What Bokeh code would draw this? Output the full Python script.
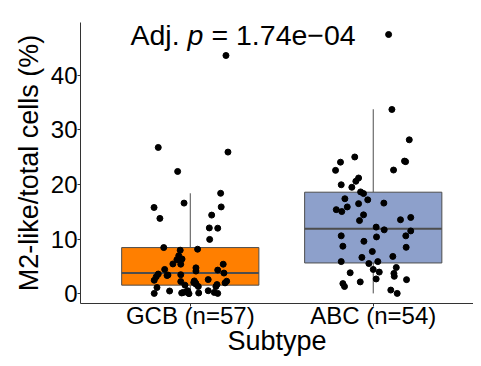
from bokeh.plotting import figure
from bokeh.models import Range1d, FixedTicker
from bokeh.core.properties import value
from bokeh.embed import file_html
from bokeh.resources import INLINE

# ---- data ----
categories = ["GCB (n=57)", "ABC (n=54)"]
box_fill = ["#FF7F00", "#8DA0CB"]
q1 = [1.56, 5.63]
median = [3.78, 11.9]
q3 = [8.45, 18.6]
whisker_low = [0.0, 0.05]
whisker_high = [18.4, 33.8]

gcb_values = [43.65, 26.8, 25.95, 22.4, 18.4, 16.6, 15.8, 15.9, 13.8, 14.4,
              12.05, 12.0, 9.95, 8.45, 7.97, 8.15, 6.96, 6.24, 5.45, 5.4,
              5.4, 4.44, 4.73, 4.14, 4.32, 3.6, 3.42, 3.48, 3.78, 3.11,
              2.46, 2.22, 2.04, 2.58, 2.28, 1.98, 1.56, 1.74, 1.31, 1.67,
              1.31, 1.13, 0.05, 0.49, 0.13, 0.31, 0.0, 0.13, 0.54, 0.23,
              0.05, 2.34, 6.35, 1.92, 0.23, 0.54, 3.33]
gcb_jitter = [0.195, -0.175, 0.206, -0.069, 0.166, -0.034, -0.198, 0.169, -0.166, 0.117,
              0.104, 0.150, 0.106, -0.145, -0.055, 0.040, -0.063, -0.073, -0.095, -0.052,
              0.180, -0.140, 0.031, 0.031, 0.150, -0.175, -0.122, -0.052, 0.184, -0.186,
              -0.197, -0.052, 0.019, 0.098, 0.199, 0.190, -0.029, 0.031, 0.044, 0.146,
              0.140, -0.182, -0.197, -0.113, -0.047, -0.022, -0.007, 0.046, 0.098, 0.131,
              0.150, 0.022, -0.045, 0.030, -0.038, -0.014, -0.127]

abc_values = [47.5, 33.76, 28.2, 24.3, 24.2, 22.66, 25.05, 24.1, 22.6, 19.96,
              21.2, 20.6, 19.5, 18.65, 18.35, 17.4, 17.2, 16.5, 16.6, 15.4,
              15.05, 15.9, 14.45, 13.4, 13.55, 13.97, 12.2, 11.7, 11.5, 10.6,
              10.4, 10.6, 8.7, 9.6, 8.5, 7.73, 6.65, 6.83, 5.88, 5.52,
              5.88, 4.8, 4.44, 3.96, 3.72, 3.18, 3.83, 2.7, 2.57, 2.16,
              1.85, 1.31, 0.66, 0.05]
abc_jitter = [0.084, 0.102, 0.197, 0.171, 0.177, 0.111, -0.101, -0.179, -0.206, -0.175,
              -0.080, -0.095, -0.117, -0.069, -0.053, -0.155, -0.030, -0.080, 0.058, -0.202,
              -0.172, -0.142, -0.053, -0.075, 0.149, 0.205, 0.016, 0.060, 0.205, -0.175,
              0.018, 0.178, -0.166, -0.051, 0.180, -0.005, -0.062, 0.107, -0.175, -0.024,
              0.025, 0.126, 0.0, 0.033, 0.113, 0.115, -0.126, 0.016, 0.182, -0.071,
              -0.166, -0.157, 0.096, 0.131]

y_ticks = [0, 10, 20, 30, 40]
annotation_parts = ["Adj.", "p", "= 1.74e\u221204"]
x_title = "Subtype"
y_title = "M2-like/total cells (%)"

FONT = "Liberation Sans"
BOX_LINE = "#4D4D4D"
AXIS_COLOR = "#333333"
BOX_WIDTH = 0.75

pos = [1, 2]

p = figure(width=473, height=358, output_backend="svg", toolbar_location=None,
           x_range=Range1d(0.4, 2.548), y_range=Range1d(-1.8, 49.7),
           min_border_left=80, min_border_right=0, min_border_top=22, min_border_bottom=30)
p.outline_line_color = None
p.background_fill_color = "white"
p.border_fill_color = "white"
p.xgrid.visible = False
p.ygrid.visible = False

# whiskers
p.segment(x0=pos, x1=pos, y0=q3, y1=whisker_high, line_color=BOX_LINE, line_width=1)
p.segment(x0=pos, x1=pos, y0=whisker_low, y1=q1, line_color=BOX_LINE, line_width=1)
# boxes
p.vbar(x=pos, width=BOX_WIDTH, bottom=q1, top=q3, fill_color=box_fill,
       line_color=BOX_LINE, line_width=1)
# medians
p.segment(x0=[x - BOX_WIDTH / 2 for x in pos], x1=[x + BOX_WIDTH / 2 for x in pos],
          y0=median, y1=median, line_color=BOX_LINE, line_width=2)

# jittered points
px = [pos[0] + j for j in gcb_jitter] + [pos[1] + j for j in abc_jitter]
py = gcb_values + abc_values
p.scatter(x=px, y=py, size=6, fill_color="black", line_color="black")

# annotation
ax, ay, fs = 0.673, 47.4, "28.5px"
p.text(x=[ax], y=[ay], text=[annotation_parts[0]], text_font=value(FONT),
       text_font_size=fs, text_baseline="middle", text_align="left", text_color="black")
p.text(x=[ax], y=[ay], text=[annotation_parts[1]], text_font=value(FONT),
       text_font_size=fs, text_font_style="italic", text_baseline="middle",
       text_align="left", text_color="black", x_offset=57)
p.text(x=[ax], y=[ay], text=[annotation_parts[2]], text_font=value(FONT),
       text_font_size=fs, text_baseline="middle", text_align="left", text_color="black",
       x_offset=81)

# axes
p.xaxis.ticker = FixedTicker(ticks=pos)
p.xaxis.major_label_overrides = {pos[i]: categories[i] for i in range(2)}
p.yaxis.ticker = FixedTicker(ticks=y_ticks)
p.xaxis.axis_label = x_title
p.yaxis.axis_label = y_title
for ax_ in (p.xaxis, p.yaxis):
    ax_.axis_line_color = AXIS_COLOR
    ax_.axis_line_width = 1
    ax_.major_tick_line_color = AXIS_COLOR
    ax_.major_tick_out = 3
    ax_.major_tick_in = 0
    ax_.minor_tick_line_color = None
    ax_.major_label_text_font = FONT
    ax_.major_label_text_font_size = "24px"
    ax_.major_label_text_color = "black"
    ax_.axis_label_text_font = FONT
    ax_.axis_label_text_font_size = "27px"
    ax_.axis_label_text_font_style = "normal"
    ax_.axis_label_text_color = "black"
p.xaxis.major_label_standoff = -5
p.xaxis.axis_label_standoff = -6
p.yaxis.major_label_standoff = 0
p.yaxis.axis_label_standoff = 4

open("out.html", "w").write(file_html(p, INLINE))
